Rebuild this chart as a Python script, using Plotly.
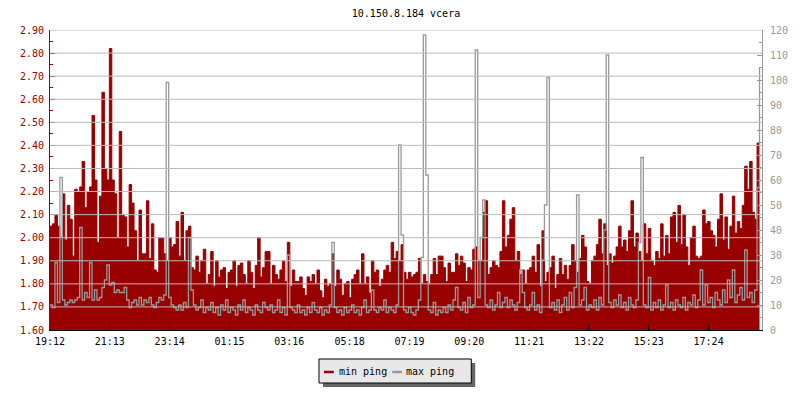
import pandas as pd
import plotly.graph_objects as go

title_text = "10.150.8.184 vcera"
start_time = "2024-05-01 19:12"
sample_freq = "5min"
tick_labels = ["19:12", "21:13", "23:14", "01:15", "03:16", "05:18",
               "07:19", "09:20", "11:21", "13:22", "15:23", "17:24"]
series_names = ["min ping", "max ping"]

min_ping = [
    2.05, 2.06, 2.10, 2.05, 2.00, 2.19, 1.99, 2.14, 2.08, 1.92,
    2.21, 2.20, 2.22, 2.33, 2.13, 2.20, 2.22, 2.53, 2.25, 1.98,
    2.18, 2.63, 2.30, 2.25, 2.82, 2.25, 2.19, 2.00, 2.46, 2.10,
    2.09, 1.96, 2.23, 2.15, 2.03, 1.90, 2.12, 1.93, 1.93, 2.16,
    1.91, 2.06, 1.86, 1.85, 2.00, 2.00, 1.93, 1.90, 2.00, 1.96,
    1.97, 2.07, 1.92, 2.11, 1.90, 2.03, 2.05, 1.87, 1.86, 1.92,
    1.85, 1.90, 1.95, 1.80, 1.84, 1.94, 1.79, 1.90, 1.83, 1.86,
    1.87, 1.78, 1.85, 1.86, 1.90, 1.79, 1.88, 1.89, 1.84, 1.80,
    1.90, 1.85, 1.78, 1.88, 2.00, 1.83, 1.87, 1.94, 1.94, 1.80,
    1.88, 1.84, 1.82, 1.86, 1.90, 1.81, 1.98, 1.79, 1.86, 1.81,
    1.81, 1.83, 1.78, 1.75, 1.83, 1.81, 1.84, 1.80, 1.86, 1.77,
    1.74, 1.82, 1.79, 1.80, 1.93, 1.79, 1.86, 1.82, 1.75, 1.80,
    1.81, 1.74, 1.82, 1.84, 1.86, 1.80, 1.93, 1.80, 1.83, 1.76,
    1.90, 1.85, 1.86, 1.79, 1.82, 1.86, 1.88, 1.85, 1.98, 1.91,
    1.94, 1.90, 1.97, 1.85, 1.82, 1.85, 1.83, 1.84, 1.85, 1.91,
    1.80, 1.84, 1.81, 1.80, 1.84, 1.91, 1.84, 1.92, 1.92, 1.87,
    1.81, 1.89, 1.85, 1.85, 1.93, 1.88, 1.92, 1.89, 1.81, 1.87,
    1.86, 1.95, 1.96, 1.90, 1.90, 2.11, 2.16, 1.84, 1.87, 1.90,
    1.88, 1.87, 1.94, 2.16, 1.96, 2.01, 2.08, 2.13, 1.90, 1.94,
    1.84, 1.86, 1.80, 1.86, 1.87, 1.92, 1.85, 1.97, 1.79, 2.03,
    1.81, 1.85, 1.87, 1.92, 1.78, 1.84, 1.91, 1.84, 1.88, 1.82,
    1.88, 1.97, 1.90, 1.85, 1.91, 2.01, 1.96, 1.81, 1.80, 1.90,
    1.92, 1.97, 2.08, 1.93, 2.06, 1.88, 1.93, 1.89, 1.92, 1.96,
    2.05, 1.96, 1.99, 1.94, 2.03, 2.16, 1.96, 2.02, 1.94, 1.90,
    2.06, 1.93, 2.04, 1.90, 1.88, 1.94, 1.91, 2.06, 1.92, 2.01,
    1.93, 2.09, 2.11, 1.98, 2.14, 1.97, 2.10, 1.96, 1.88, 2.00,
    2.05, 1.92, 1.91, 1.92, 2.12, 2.06, 2.07, 2.03, 2.01, 1.96,
    2.08, 2.19, 1.99, 2.09, 1.95, 2.05, 2.18, 2.02, 2.07, 2.04,
    2.14, 2.31, 2.21, 2.33, 2.11, 2.08, 2.41, 2.37,
]

max_ping = [
    10, 9, 27, 11, 61, 12, 10, 11, 12, 11,
    12, 13, 41, 12, 15, 13, 27, 12, 16, 12,
    13, 17, 20, 26, 18, 19, 15, 16, 15, 15,
    17, 12, 9, 11, 12, 10, 13, 10, 12, 11,
    13, 10, 9, 11, 13, 12, 14, 99, 13, 10,
    9, 8, 10, 8, 11, 9, 37, 16, 10, 8,
    9, 12, 7, 9, 8, 11, 7, 9, 6, 10,
    8, 12, 7, 9, 8, 6, 10, 8, 12, 7,
    9, 8, 6, 10, 8, 7, 11, 9, 8, 10,
    7, 8, 12, 7, 9, 6, 30, 9, 8, 7,
    10, 7, 8, 6, 9, 7, 11, 8, 7, 9,
    6, 8, 7, 10, 35, 9, 7, 8, 6, 9,
    7, 8, 10, 7, 8, 6, 9, 12, 7, 8,
    16, 8, 7, 9, 8, 12, 7, 9, 8, 7,
    10, 74, 38, 8, 7, 9, 7, 6, 8, 12,
    29, 118, 62, 8, 7, 11, 6, 8, 7, 9,
    7, 10, 8, 12, 17, 9, 8, 11, 7, 13,
    9, 10, 112, 13, 37, 52, 10, 9, 12, 8,
    10, 15, 9, 11, 13, 9, 12, 10, 8, 11,
    24, 15, 9, 8, 10, 15, 8, 10, 7, 28,
    50, 101, 9, 11, 8, 12, 7, 10, 13, 8,
    15, 9, 17, 54, 10, 12, 17, 8, 10, 9,
    12, 8, 13, 10, 40, 110, 11, 9, 12, 10,
    14, 9, 11, 8, 13, 10, 9, 12, 35, 69,
    10, 9, 21, 8, 11, 9, 12, 8, 10, 18,
    9, 11, 8, 12, 10, 9, 13, 8, 11, 10,
    14, 9, 12, 24, 10, 18, 11, 13, 9, 15,
    12, 10, 16, 11, 20, 13, 24, 11, 14, 17,
    12, 32, 13, 15, 11, 16, 57, 105,
]

RED = "#990000"
GRAY = "#999999"
GRID = "#bbbbbb"
FONT = "DejaVu Sans Mono"

start = pd.Timestamp(start_time)
times = pd.date_range(start, periods=len(min_ping), freq=sample_freq)
tick_vals = []
for lab in tick_labels:
    t = pd.Timestamp(start.strftime("%Y-%m-%d") + " " + lab)
    if t < start:
        t += pd.Timedelta(days=1)
    tick_vals.append(t)

fig = go.Figure()
fig.add_trace(go.Scatter(
    x=times, y=min_ping, name=series_names[0], mode="lines",
    line=dict(color=RED, width=1, shape="hv"), fill="tozeroy",
    fillcolor=RED, yaxis="y", showlegend=False))
fig.add_trace(go.Scatter(
    x=times, y=max_ping, name=series_names[1], mode="lines",
    line=dict(color=GRAY, width=1.3, shape="hv"), yaxis="y2",
    showlegend=False))

shapes = []
for k in range(1, 14):
    v = 1.6 + 0.1 * k
    shapes.append(dict(type="line", xref="paper", x0=0, x1=1, yref="y",
                       y0=v, y1=v, line=dict(color=GRID, width=1),
                       layer="above"))


def px_x(p):
    return (p - 50) / 720.0


def px_y(p):
    return (330 - p) / 300.0


# legend box (drawn manually to include the drop shadow)
shapes.append(dict(type="rect", xref="paper", yref="paper",
                   x0=px_x(326), x1=px_x(480), y0=px_y(387), y1=px_y(363),
                   fillcolor="#666666", line=dict(width=0), layer="above"))
shapes.append(dict(type="rect", xref="paper", yref="paper",
                   x0=px_x(322), x1=px_x(476), y0=px_y(383), y1=px_y(359),
                   fillcolor="#e8e8e8", line=dict(color="black", width=1),
                   layer="above"))
shapes.append(dict(type="line", xref="paper", yref="paper",
                   x0=px_x(327), x1=px_x(337), y0=px_y(372), y1=px_y(372),
                   line=dict(color=RED, width=2.5), layer="above"))
shapes.append(dict(type="line", xref="paper", yref="paper",
                   x0=px_x(396), x1=px_x(406), y0=px_y(372), y1=px_y(372),
                   line=dict(color=GRAY, width=2.5), layer="above"))

annotations = [
    dict(text=series_names[0], xref="paper", yref="paper", x=px_x(340),
         y=px_y(371), xanchor="left", yanchor="middle", showarrow=False,
         font=dict(family=FONT, size=10, color="#000000")),
    dict(text=series_names[1], xref="paper", yref="paper", x=px_x(408),
         y=px_y(371), xanchor="left", yanchor="middle", showarrow=False,
         font=dict(family=FONT, size=10, color="#000000")),
]

fig.update_layout(
    width=800, height=400,
    margin=dict(l=50, r=30, t=30, b=70),
    paper_bgcolor="white", plot_bgcolor="white",
    showlegend=False,
    font=dict(family=FONT, size=10, color="black"),
    title=dict(text=title_text, x=0.5, xref="paper", xanchor="center",
               y=1 - 13 / 400, yref="container", yanchor="middle",
               font=dict(family=FONT, size=10, color="black")),
    xaxis=dict(type="date", range=[start, start + pd.Timedelta(days=1)],
               tickmode="array", tickvals=tick_vals, ticktext=tick_labels,
               ticks="inside", ticklen=5, tickcolor="black",
               ticklabelstandoff=2,
               showline=True, linecolor="black", linewidth=1,
               showgrid=False, zeroline=False,
               tickfont=dict(family=FONT, size=10, color="black")),
    yaxis=dict(range=[1.6, 2.9], tick0=1.6, dtick=0.1, tickformat=".2f",
               ticks="inside", ticklen=5, tickcolor=RED,
               ticklabelstandoff=3,
               showline=True, linecolor=RED, linewidth=1,
               showgrid=False, zeroline=False,
               tickfont=dict(family=FONT, size=10, color=RED),
               minor=dict(ticks="inside", ticklen=3, dtick=0.05,
                          tickcolor=RED, showgrid=False)),
    yaxis2=dict(range=[0, 120], tick0=0, dtick=10, overlaying="y",
                side="right", ticks="inside", ticklen=5, tickcolor=GRAY,
                ticklabelstandoff=5,
                showline=True, linecolor=GRAY, linewidth=1,
                showgrid=False, zeroline=False,
                tickfont=dict(family=FONT, size=10, color=GRAY),
                minor=dict(ticks="inside", ticklen=3, dtick=5,
                           tickcolor=GRAY, showgrid=False)),
    shapes=shapes,
    annotations=annotations,
)

fig.write_html(
    "out.html",
    config={"displayModeBar": False},
    post_script="document.body.style.margin='0';document.body.style.overflow='hidden';",
)
